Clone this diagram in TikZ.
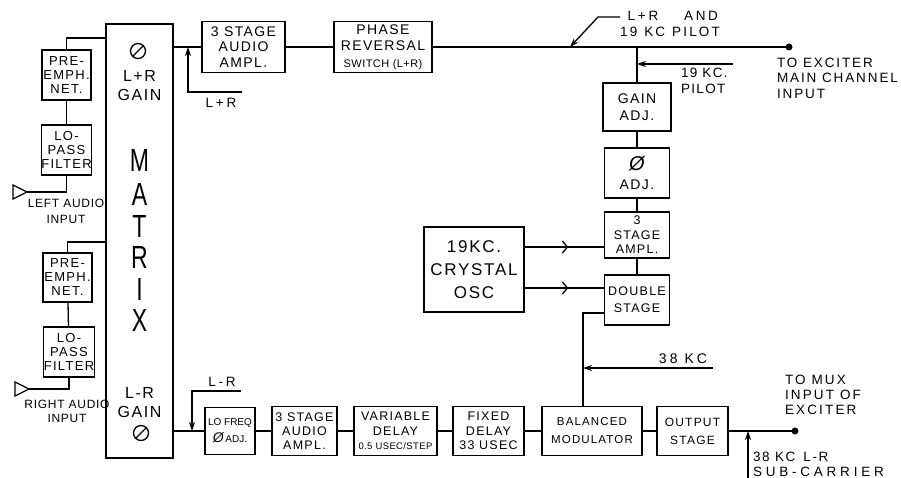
\documentclass[tikz,border=0pt]{standalone}
\usepackage{fontspec}
\setmainfont{Liberation Sans}[LetterSpace=10]
\usetikzlibrary{arrows.meta,decorations.markings}
\tikzset{
  every node/.style={inner sep=0pt, outer sep=0pt},
  wire/.style={line width=1.3pt},
  blk/.style={draw, line width=1.3pt, align=center, font=\fontsize{14}{15.5}\selectfont},
  sblk/.style={blk, font=\fontsize{13}{14}\selectfont},
  lbl/.style={align=left, font=\fontsize{13.5}{15.5}\selectfont},
  slbl/.style={align=center, font=\fontsize{12}{15}\selectfont},
  big/.style={font=\fontsize{32}{32}\selectfont},
  arr/.style={wire, -{Stealth[length=9pt,width=6pt]}},
  chev/.style={wire, postaction={decorate}, decoration={markings, mark=at position 0.55 with {\arrow{Straight Barb[length=5pt,width=12pt,line width=1.3pt]}}}},
  dotn/.style={circle, fill, minimum size=7pt},
  knob/.style={circle, draw, line width=1.3pt, minimum size=15pt},
}
\begin{document}
\begin{tikzpicture}[x=1pt,y=-1pt]
\useasboundingbox (0,0) rectangle (901,478);

% matrix
\node[blk, minimum width=67pt, minimum height=434pt] (mat) at (139.5,241) {};
\node[knob] (k1) at (138,51) {};
\draw[wire] (k1.south west) -- (k1.north east);
\node[font=\fontsize{16}{19}\selectfont, align=center] (lrg) at (139.5,85.5) {L+R\\GAIN};
\node[big] (mM) at (139.5,160) {\scalebox{0.72}[1]{M}};
\node[big] (mA) at (139.5,194) {\scalebox{0.72}[1]{A}};
\node[big] (mT) at (139.5,226) {\scalebox{0.72}[1]{T}};
\node[big] (mR) at (139.5,257) {\scalebox{0.72}[1]{R}};
\node[big] (mI) at (139.5,289) {\scalebox{0.72}[1]{I}};
\node[big] (mX) at (139.5,320) {\scalebox{0.72}[1]{X}};
\node[font=\fontsize{16}{19}\selectfont, align=center] (lmg) at (139.5,402.5) {L-R\\GAIN};
\node[knob] (k2) at (141,433) {};
\draw[wire] (k2.south west) -- (k2.north east);

% left inputs
\node[sblk, minimum width=49pt, minimum height=50pt] (pe1) at (66.5,75) {PRE-\\EMPH.\\NET.};
\node[sblk, minimum width=49pt, minimum height=50pt] (lp1) at (66.5,150) {LO-\\PASS\\FILTER};
\node[sblk, minimum width=49pt, minimum height=49pt] (pe2) at (67.5,277.5) {PRE-\\EMPH.\\NET.};
\node[sblk, minimum width=50pt, minimum height=50pt] (lp2) at (69,352) {LO-\\PASS\\FILTER};
\draw[wire] (pe1.north) |- (mat.west |- 0,38);
\draw[wire] (pe1) -- (lp1);
\coordinate (in1) at (27,192);
\draw[wire] (lp1.south) |- (in1);
\draw[wire] (in1) -- ++(-14,-7) -- ++(0,14) -- cycle;
\node[slbl, font=\fontsize{12}{16}\selectfont\addfontfeature{LetterSpace=6}] (t1) at (66,211) {LEFT AUDIO\\INPUT};
\draw[wire] (pe2.north) |- (mat.west |- 0,242);
\draw[wire] (pe2) -- (lp2);
\coordinate (in2) at (29,389);
\draw[wire] (lp2.south) |- (in2);
\draw[wire] (in2) -- ++(-14,-7) -- ++(0,14) -- cycle;
\node[slbl, font=\fontsize{12}{14}\selectfont\addfontfeature{LetterSpace=6}] (t2) at (67,411) {RIGHT AUDIO\\INPUT};

% top row
\node[blk, minimum width=83pt, minimum height=51pt] (amp1) at (243.5,47) {3 STAGE\\AUDIO\\AMPL.};
\node[blk, minimum width=98pt, minimum height=51pt, font=\fontsize{14}{16.5}\selectfont] (phase) at (383,47) {PHASE\\REVERSAL\\{\fontsize{11}{13}\selectfont\addfontfeature{LetterSpace=4} SWITCH (L+R)}};
\node[dotn] (dA) at (789,47) {};
\draw[wire] (mat.east |- amp1) -- (amp1);
\draw[wire] (amp1) -- (phase);
\draw[wire] (phase) -- (dA);
\coordinate (lpr) at (242,92);
\coordinate (jLR) at (188,47);
\draw[arr] (lpr) -| (jLR);
\node[lbl, font=\fontsize{13.5}{15.5}\selectfont\addfontfeature{LetterSpace=20}] (tLR) at (221,103) {L+R};
\coordinate (pA) at (620,17);
\coordinate (pB) at (570,47);
\draw[arr] (pA) -- (598,17) -- (pB);
\node[lbl, font=\fontsize{13.5}{15.5}\selectfont\addfontfeature{LetterSpace=20}] (tLRa) at (643,16) {L+R};
\node[lbl, font=\fontsize{13.5}{15.5}\selectfont\addfontfeature{LetterSpace=20}] (tAND) at (701,16) {AND};
\node[lbl, font=\fontsize{13.5}{15.5}\selectfont\addfontfeature{LetterSpace=16}] (t19p) at (670,32) {19\hspace{7pt}KC\hspace{7pt}PILOT};
\node[lbl, anchor=west, font=\fontsize{13.5}{15.5}\selectfont\addfontfeature{LetterSpace=14}] (tEx) at (777,78) {TO EXCITER\\MAIN CHANNEL\\INPUT};

% right column
\coordinate (j1) at (637,47);
\node[blk, minimum width=68pt, minimum height=48pt, font=\fontsize{14}{17}\selectfont] (gain) at (637,107) {GAIN\\ADJ.};
\node[blk, minimum width=65pt, minimum height=50pt, font=\fontsize{14}{19}\selectfont] (phadj) at (637,173) {{\fontsize{20}{20}\selectfont\itshape Ø}\\ADJ.};
\node[blk, minimum width=65pt, minimum height=46pt, font=\fontsize{12.5}{14.5}\selectfont] (amp3) at (637,235) {3\\STAGE\\AMPL.};
\node[blk, minimum width=65pt, minimum height=50pt, font=\fontsize{12.5}{17}\selectfont] (dbl) at (637,300) {DOUBLE\\STAGE};
\draw[wire] (j1) -- (gain);
\draw[wire] (gain) -- (phadj);
\draw[wire] (phadj) -- (amp3);
\draw[wire] (amp3) -- (dbl);
\coordinate (p19) at (733,64);
\coordinate (j19) at (637,64);
\draw[arr] (p19) -- (j19);
\node[lbl, anchor=west, font=\fontsize{13.5}{16}\selectfont] (t19) at (681,81) {19 KC.\\PILOT};

% oscillator
\node[blk, minimum width=100pt, minimum height=85pt, font=\fontsize{17}{23}\selectfont] (osc) at (474,269.5) {19KC.\\CRYSTAL\\OSC};
\draw[chev] (osc.east |- 0,247) -- (amp3.west |- 0,247);
\draw[chev] (osc.east |- 0,288) -- (dbl.west |- 0,288);

% bottom row
\node[blk, minimum width=50pt, minimum height=47pt, font=\fontsize{10}{17}\selectfont\addfontfeature{LetterSpace=0}] (lof) at (230,431) {LO FREQ\\{\fontsize{14}{14}\selectfont\itshape Ø}\,ADJ.};
\node[blk, minimum width=65pt, minimum height=49pt, font=\fontsize{12.5}{14}\selectfont] (amp2) at (304.5,431) {3 STAGE\\AUDIO\\AMPL.};
\node[blk, minimum width=83pt, minimum height=49pt, font=\fontsize{12.5}{14.5}\selectfont] (vdel) at (395.5,431) {VARIABLE\\DELAY\\{\fontsize{9.5}{11}\selectfont\addfontfeature{LetterSpace=4} 0.5 USEC/STEP}};
\node[blk, minimum width=71pt, minimum height=49pt, font=\fontsize{12.5}{14.5}\selectfont] (fdel) at (488.5,431) {FIXED\\DELAY\\33 USEC};
\node[blk, minimum width=100pt, minimum height=49pt, font=\fontsize{11.5}{18}\selectfont] (bal) at (592,431) {BALANCED\\MODULATOR};
\node[blk, minimum width=71pt, minimum height=49pt, font=\fontsize{12}{18}\selectfont] (out) at (692.5,431) {OUTPUT\\STAGE};
\node[dotn] (dB) at (795,431) {};
\draw[wire] (mat.east |- lof) -- (lof);
\draw[wire] (lof) -- (amp2);
\draw[wire] (amp2) -- (vdel);
\draw[wire] (vdel) -- (fdel);
\draw[wire] (fdel) -- (bal);
\draw[wire] (bal) -- (out);
\draw[wire] (out) -- (dB);
\coordinate (lmr) at (241,391);
\coordinate (jLmR) at (192,431);
\draw[arr] (lmr) -| (jLmR);
\node[lbl, font=\fontsize{13.5}{15.5}\selectfont\addfontfeature{LetterSpace=20}] (tLmR) at (222,382) {L-R};
\draw[wire] (dbl.west |- 0,313) -| (bal.north -| 583,0);
\coordinate (k38) at (713,368);
\coordinate (j38) at (583,368);
\draw[arr] (k38) -- (j38);
\node[lbl, font=\fontsize{14}{15.5}\selectfont\addfontfeature{LetterSpace=22}] (t38) at (683,359) {38 KC};
\coordinate (sc) at (748,478);
\coordinate (jsc) at (748,431);
\draw[arr] (sc) -- (jsc);
\node[lbl, anchor=west, font=\fontsize{13.5}{15}\selectfont\addfontfeature{LetterSpace=16}] (tMux) at (785,395) {TO MUX\\INPUT OF\\EXCITER};
\node[lbl, anchor=west, font=\fontsize{13.5}{15}\selectfont\addfontfeature{LetterSpace=28}] (tSub) at (753,464.5) {{\addfontfeature{LetterSpace=12}38 KC\hspace{8pt}L-R}\\SUB-CARRIER};
\end{tikzpicture}
\end{document}
